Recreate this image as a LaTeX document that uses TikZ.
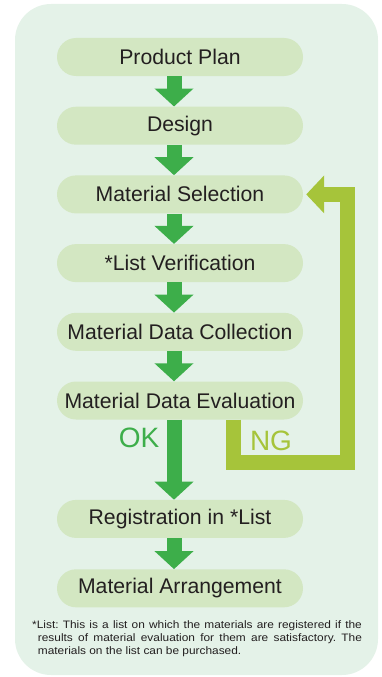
\documentclass[tikz,border=0pt]{standalone}
\usepackage{fontspec}
\setmainfont{Liberation Sans}
\newfontfamily\notefont[FakeStretch=1.1]{Liberation Sans}
\usetikzlibrary{positioning,arrows.meta}

\definecolor{bgcol}{HTML}{E4F2E8}
\definecolor{boxcol}{HTML}{D3E7C2}
\definecolor{okcol}{HTML}{3DAE4A}
\definecolor{ngcol}{HTML}{A6C43A}
\definecolor{txtcol}{HTML}{231F20}

\tikzset{
    stagebox/.style={fill=boxcol, rounded corners=19pt, minimum width=246pt,
        minimum height=38pt, inner sep=0pt, text=txtcol,
        font=\fontsize{21.2}{24}\selectfont},
    flowarrow/.style={okcol, line width=15pt,
        -{Triangle[length=18pt,width=38pt]}},
    backarrow/.style={ngcol, line width=15pt, line join=miter,
        -{Triangle[length=18pt,width=37pt]}},
    verdict/.style={font=\fontsize{28}{30}\selectfont, inner sep=0pt}
}

\begin{document}
\begin{tikzpicture}[x=1pt, y=1pt, node distance=30.3pt]
    % Fix the page to the size of the panel
    \useasboundingbox (0,0) rectangle (381,-677);
    \fill[bgcol, rounded corners=36pt] (15,-4) rectangle (378,-675);

    % Define the stages of the flow
    \node[stagebox] (plan) at (180,-57) {Product Plan};
    \node[stagebox, below=of plan] (design) {Design};
    \node[stagebox, below=of design] (matsel) {Material Selection};
    \node[stagebox, below=of matsel] (listver) {*List Verification};
    \node[stagebox, below=of listver] (collect) {Material Data Collection};
    \node[stagebox, below=of collect] (evaluate) {Material Data Evaluation};
    \node[stagebox, below=80pt of evaluate] (register) {Registration in *List};
    \node[stagebox, below=31pt of register] (arrange) {Material Arrangement};

    % Draw the green arrows between the stages
    \foreach \a/\b in {plan/design, design/matsel, matsel/listver,
                       listver/collect, collect/evaluate, evaluate/register,
                       register/arrange}
        \draw[flowarrow] ([xshift=-6pt]\a.south) -- ([xshift=-6pt]\b.north);

    % Draw the NG arrow back to the selection
    \coordinate (ngturn) at (347.5,-462.5);
    \draw[backarrow] ([xshift=53.5pt]evaluate.south) |- (ngturn)
        |- ([xshift=3pt]matsel.east);

    % Draw the labels of the two branches
    \node[verdict, text=okcol] (ok) at (139,-437.5) {OK};
    \node[verdict, text=ngcol] (ng) at (271,-441) {NG};

    % Draw the footnote
    \node[anchor=north west, inner sep=0pt, text width=324pt, text=txtcol,
          font=\notefont\fontsize{10.8}{13.2}\selectfont\frenchspacing,
          align=justify] (note) at (37.7,-620)
        {\hspace*{-5.7pt}*List: This is a list on which the materials are registered if the\linebreak
         results of material evaluation for them are satisfactory. The\linebreak
         materials on the list can be purchased.};
\end{tikzpicture}
\end{document}
